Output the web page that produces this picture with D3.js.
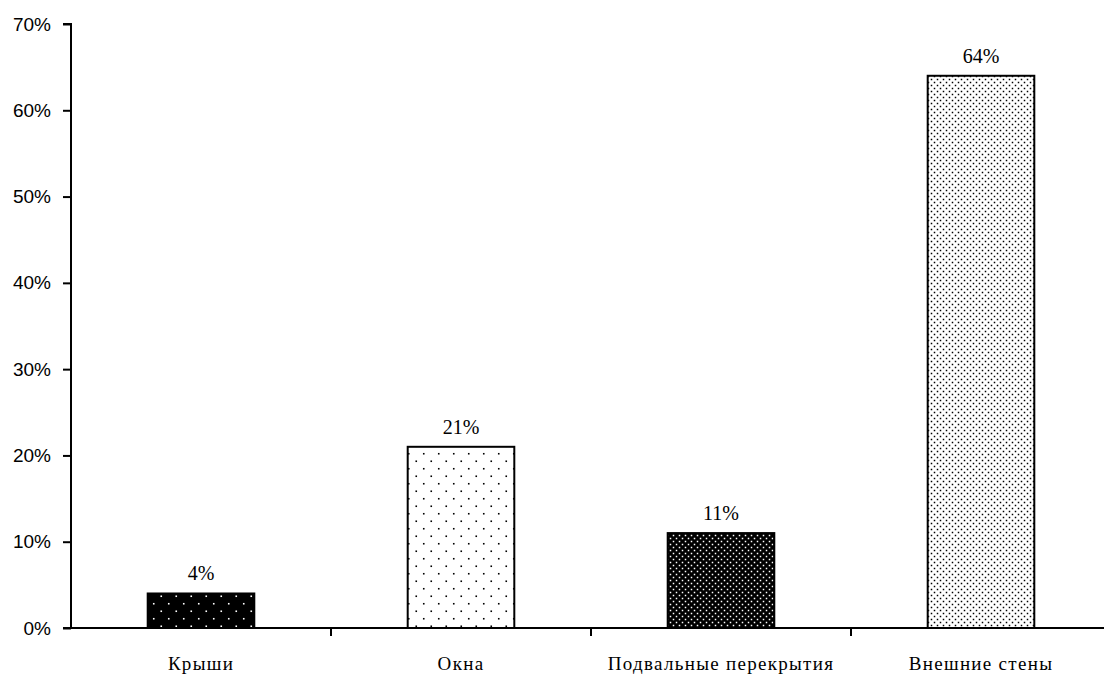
<!DOCTYPE html>
<html>
<head>
<meta charset="utf-8">
<script src="https://cdn.jsdelivr.net/npm/d3@7"></script>
<style>
  html, body { margin: 0; padding: 0; background: #fff; }
  svg { display: block; }
</style>
</head>
<body>
<svg id="chart" width="1104" height="675"></svg>
<script>
// Heat loss share by building element
const categories = ["Крыши", "Окна", "Подвальные перекрытия", "Внешние стены"];
const values = [4, 21, 11, 64];
const patterns = ["darkSparse", "lightSparse", "darkDense", "lightDense"];
const yTicks = [0, 10, 20, 30, 40, 50, 60, 70];

const svg = d3.select("#chart");
const margin = { left: 71, top: 24, bottom: 47 };
const plotBottom = 675 - margin.bottom;

const x = d3.scaleBand()
  .domain(categories)
  .range([margin.left, margin.left + 4 * 260])
  .paddingInner(0.59)
  .paddingOuter(0.295);

const y = d3.scaleLinear().domain([0, 70]).range([plotBottom, margin.top]);

// Dotted fill patterns
const defs = svg.append("defs");
function dotPattern(id, size, bg, fg, r) {
  const p = defs.append("pattern")
    .attr("id", id)
    .attr("patternUnits", "userSpaceOnUse")
    .attr("width", size).attr("height", size);
  p.append("rect").attr("width", size).attr("height", size).attr("fill", bg);
  const h = size / 2;
  [[h / 2, h / 2], [h / 2 + h, h / 2 + h]].forEach(([cx, cy]) => {
    p.append("rect")
      .attr("x", cx - r / 2).attr("y", cy - r / 2)
      .attr("width", r).attr("height", r)
      .attr("fill", fg);
  });
}
dotPattern("darkSparse", 15, "#000", "#fff", 1.6);
dotPattern("lightSparse", 15, "#fff", "#000", 1.6);
dotPattern("darkDense", 6, "#000", "#fff", 1.5);
dotPattern("lightDense", 6, "#fff", "#000", 1.5);

// Bars
svg.append("g").selectAll("rect")
  .data(categories)
  .join("rect")
  .attr("x", d => x(d))
  .attr("y", (d, i) => y(values[i]))
  .attr("width", x.bandwidth())
  .attr("height", (d, i) => plotBottom - y(values[i]))
  .attr("fill", (d, i) => `url(#${patterns[i]})`)
  .attr("stroke", "#000")
  .attr("stroke-width", 2);

// Value labels
svg.append("g").selectAll("text")
  .data(categories)
  .join("text")
  .attr("x", d => x(d) + x.bandwidth() / 2)
  .attr("y", (d, i) => y(values[i]) - 13)
  .attr("text-anchor", "middle")
  .attr("font-family", "Liberation Serif, serif")
  .attr("font-size", 20)
  .attr("fill", "#000")
  .text((d, i) => values[i] + "%");

// Y axis
const yAxis = d3.axisLeft(y)
  .tickValues(yTicks)
  .tickFormat(d => d + "%")
  .tickSize(8)
  .tickPadding(12);
const gy = svg.append("g")
  .attr("transform", `translate(${margin.left},0)`)
  .call(yAxis);
gy.select(".domain").attr("stroke", "#000").attr("stroke-width", 2)
  .attr("d", `M-8,${margin.top}H0V${plotBottom}H-8`);
gy.selectAll(".tick line").attr("stroke", "#000").attr("stroke-width", 2);
gy.selectAll(".tick text")
  .attr("font-family", "Liberation Sans, Arial, sans-serif")
  .attr("font-size", 19)
  .attr("fill", "#000");

// X axis with category dividers
const gx = svg.append("g").attr("transform", `translate(0,${plotBottom})`);
gx.append("line")
  .attr("x1", margin.left - 8).attr("x2", 1104)
  .attr("stroke", "#000").attr("stroke-width", 2);
const step = x.step();
gx.selectAll(".div")
  .data(categories.slice(1))
  .join("line")
  .attr("class", "div")
  .attr("x1", d => x(d) - step * x.paddingInner() / 2)
  .attr("x2", d => x(d) - step * x.paddingInner() / 2)
  .attr("y1", 0).attr("y2", 8)
  .attr("stroke", "#000").attr("stroke-width", 2);
gx.selectAll(".cat")
  .data(categories)
  .join("text")
  .attr("class", "cat")
  .attr("x", d => x(d) + x.bandwidth() / 2)
  .attr("y", 42)
  .attr("text-anchor", "middle")
  .attr("font-family", "Liberation Serif, serif")
  .attr("font-size", 19)
  .attr("letter-spacing", 1.3)
  .attr("fill", "#000")
  .text(d => d);
</script>
</body>
</html>
